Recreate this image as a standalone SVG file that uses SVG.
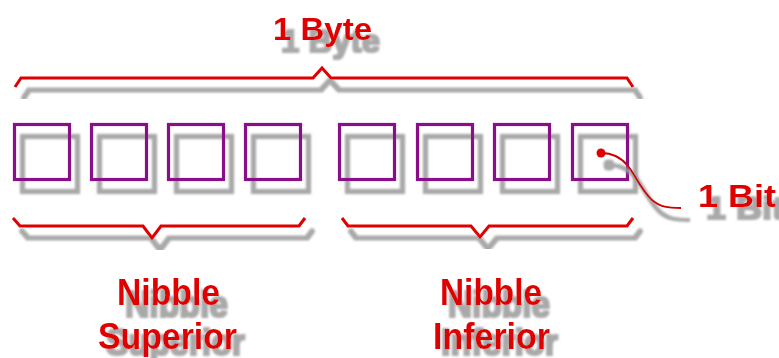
<svg xmlns="http://www.w3.org/2000/svg" width="779" height="358" viewBox="0 0 779 358">
  <defs>
    <filter id="sh" x="-20%" y="-20%" width="160%" height="180%">
      <feMorphology in="SourceAlpha" operator="dilate" radius="0.8" result="d"/>
      <feGaussianBlur in="d" stdDeviation="1.3" result="b"/>
      <feOffset in="b" dx="8" dy="12" result="o"/>
      <feFlood flood-color="#9a9a9a" flood-opacity="0.85"/>
      <feComposite in2="o" operator="in" result="s"/>
      <feMerge>
        <feMergeNode in="s"/>
        <feMergeNode in="SourceGraphic"/>
      </feMerge>
    </filter>
    <filter id="shs" x="-20%" y="-20%" width="160%" height="180%">
      <feMorphology in="SourceAlpha" operator="dilate" radius="0.8" result="d"/>
      <feGaussianBlur in="d" stdDeviation="1.3" result="b"/>
      <feOffset in="b" dx="8" dy="6" result="o"/>
      <feFlood flood-color="#9a9a9a" flood-opacity="0.85"/>
      <feComposite in2="o" operator="in" result="s"/>
      <feMerge>
        <feMergeNode in="s"/>
        <feMergeNode in="SourceGraphic"/>
      </feMerge>
    </filter>
    <style>
      .bit { fill: none; stroke: #8a0a8a; stroke-width: 3.2; }
      .brace { fill: none; stroke: #e00000; stroke-width: 3; stroke-linejoin: miter; }
      .lbl { font-family: "Liberation Sans", Arial, sans-serif; font-weight: bold; fill: #e00000; }
      .wire { fill: none; stroke: #d00000; stroke-width: 2; }
    </style>
  </defs>
  <rect width="779" height="358" fill="#ffffff"/>

  <g id="label-byte" filter="url(#sh)">
    <text class="lbl" x="273" y="40" font-size="32" textLength="99" lengthAdjust="spacingAndGlyphs">1 Byte</text>
  </g>

  <g id="brace-byte" filter="url(#sh)">
    <path class="brace" d="M15,87 L21,78 L313,78 L322,68 L331,78 L627,78 L633,87"/>
  </g>

  <g id="bits" filter="url(#sh)">
    <g id="bit-1"><rect class="bit" x="14.5" y="124.5" width="55" height="55"/></g>
    <g id="bit-2"><rect class="bit" x="91.5" y="124.5" width="55" height="55"/></g>
    <g id="bit-3"><rect class="bit" x="168.5" y="124.5" width="55" height="55"/></g>
    <g id="bit-4"><rect class="bit" x="245.5" y="124.5" width="55" height="55"/></g>
    <g id="bit-5"><rect class="bit" x="339.5" y="124.5" width="55" height="55"/></g>
    <g id="bit-6"><rect class="bit" x="417.5" y="124.5" width="55" height="55"/></g>
    <g id="bit-7"><rect class="bit" x="494.5" y="124.5" width="55" height="55"/></g>
    <g id="bit-8"><rect class="bit" x="572.5" y="124.5" width="55" height="55"/></g>
  </g>

  <g id="connectors" filter="url(#sh)">
    <circle cx="601" cy="153" r="4.5" fill="#e00000"/>
    <path class="wire" d="M601,153 C611,153 620,156 628,166 C636,176 641,190 652,200 C660,207 668,208 681,208"/>
  </g>

  <g id="label-bit" filter="url(#sh)">
    <text class="lbl" x="698" y="207" font-size="32" textLength="78" lengthAdjust="spacingAndGlyphs">1 Bit</text>
  </g>

  <g id="brace-superior" filter="url(#sh)">
    <path class="brace" d="M13,218 L20,226 L143,226 L152,238 L161,226 L299,226 L305,218"/>
  </g>

  <g id="brace-inferior" filter="url(#sh)">
    <path class="brace" d="M342,218 L348,226 L471,226 L480,237 L489,226 L627,226 L633,218"/>
  </g>

  <g id="label-superior">
    <text class="lbl" x="117" y="305" font-size="36" textLength="103" lengthAdjust="spacingAndGlyphs" filter="url(#sh)">Nibble</text>
    <text class="lbl" x="98" y="349" font-size="36" textLength="139" lengthAdjust="spacingAndGlyphs" filter="url(#shs)">Superior</text>
  </g>

  <g id="label-inferior">
    <text class="lbl" x="440" y="305" font-size="36" textLength="102" lengthAdjust="spacingAndGlyphs" filter="url(#sh)">Nibble</text>
    <text class="lbl" x="433" y="349" font-size="36" textLength="117" lengthAdjust="spacingAndGlyphs" filter="url(#shs)">Inferior</text>
  </g>
</svg>
